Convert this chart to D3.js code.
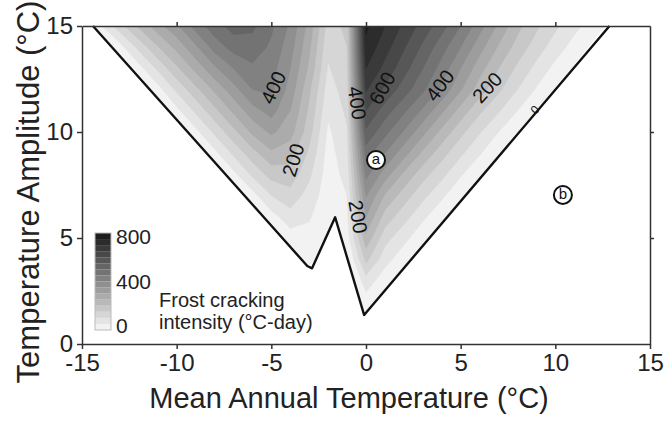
<!DOCTYPE html>
<html>
<head>
<meta charset="utf-8">
<script src="https://cdn.jsdelivr.net/npm/d3@7"></script>
<style>
  body { margin: 0; background: #fff; }
  svg { display: block; font-family: "Liberation Sans", Arial, sans-serif; }
</style>
</head>
<body>
<svg id="chart" width="665" height="423"></svg>
<script>
// grid nodes, 1 °C apart
const matNodes = [-15,-14,-13,-12,-11,-10,-9,-8,-7,-6,-5,-4,-3,-2,-1,0,1,2,3,4,5,6,7,8,9,10,11,12,13,14,15];
const ampNodes = [15,14,13,12,11,10,9,8,7,6,5,4,3,2,1,0];

// frost cracking intensity (°C-day), one row per amplitude (top row = 15 °C)
// columns follow matNodes; negative numbers are outside the shaded area (clipped away)
const fciRows = [
  [-40,45,130,210,280,340,420,480,520,510,460,390,280,130,160,760,700,640,580,520,450,370,290,215,160,110,65,25,-15,-55,-100],
  [-80,-25,30,115,195,265,340,420,470,480,440,370,260,110,150,735,670,605,540,470,400,320,245,180,125,75,30,-10,-50,-100,-100],
  [-100,-80,-25,30,110,190,265,340,400,440,420,350,240,95,140,700,635,570,500,430,350,270,200,140,85,35,-5,-50,-95,-100,-100],
  [-100,-100,-70,-25,30,110,185,260,330,400,410,330,210,75,125,655,590,525,460,390,305,225,160,100,45,0,-45,-95,-100,-100,-100],
  [-100,-100,-100,-70,-25,35,110,185,260,330,370,300,190,60,110,600,525,460,390,310,230,160,105,50,5,-40,-90,-100,-100,-100,-100],
  [-100,-100,-100,-100,-70,-25,35,110,185,260,310,270,170,40,95,540,465,395,315,235,165,105,50,5,-40,-90,-100,-100,-100,-100,-100],
  [-100,-100,-100,-100,-100,-70,-25,35,110,180,240,220,140,30,80,475,400,320,240,170,110,55,5,-40,-85,-100,-100,-100,-100,-100,-100],
  [-100,-100,-100,-100,-100,-100,-70,-25,35,110,170,180,110,25,65,415,325,240,170,115,55,10,-40,-85,-100,-100,-100,-100,-100,-100,-100],
  [-100,-100,-100,-100,-100,-100,-100,-70,-30,30,100,130,80,20,50,355,245,175,115,60,10,-35,-85,-100,-100,-100,-100,-100,-100,-100,-100],
  [-100,-100,-100,-100,-100,-100,-100,-100,-70,-30,30,80,55,15,40,300,180,120,60,15,-35,-80,-100,-100,-100,-100,-100,-100,-100,-100,-100],
  [-100,-100,-100,-100,-100,-100,-100,-100,-100,-70,-30,25,35,0,25,235,120,65,15,-30,-80,-100,-100,-100,-100,-100,-100,-100,-100,-100,-100],
  [-100,-100,-100,-100,-100,-100,-100,-100,-100,-100,-70,-30,15,-20,-10,165,70,20,-30,-75,-100,-100,-100,-100,-100,-100,-100,-100,-100,-100,-100],
  [-100,-100,-100,-100,-100,-100,-100,-100,-100,-100,-100,-100,-40,-60,-40,80,20,-25,-75,-100,-100,-100,-100,-100,-100,-100,-100,-100,-100,-100,-100],
  [-100,-100,-100,-100,-100,-100,-100,-100,-100,-100,-100,-100,-100,-100,-70,25,-25,-70,-100,-100,-100,-100,-100,-100,-100,-100,-100,-100,-100,-100,-100],
  [-100,-100,-100,-100,-100,-100,-100,-100,-100,-100,-100,-100,-100,-100,-100,-20,-70,-100,-100,-100,-100,-100,-100,-100,-100,-100,-100,-100,-100,-100,-100],
  [-100,-100,-100,-100,-100,-100,-100,-100,-100,-100,-100,-100,-100,-100,-100,-60,-100,-100,-100,-100,-100,-100,-100,-100,-100,-100,-100,-100,-100,-100,-100]
];

const levels = [0,50,100,150,200,250,300,350,400,450,500,550,600,650,700,750];

// the thick zero line round the shaded area
const edgeMat = [-14.42, -3.1, -2.85, -1.63, -0.1, 12.86];
const edgeAmp = [15, 3.68, 3.57, 5.98, 1.37, 15];

const xTicks = [-15,-10,-5,0,5,10,15];
const yTicks = [0,5,10,15];
const legendTicks = [0,400,800];

const labelValue = [400, 200, 400, 600, 400, 200, 200];
const labelMat   = [-4.9, -3.85, -0.47, 0.85, 3.9, 6.4, -0.42];
const labelAmp   = [12.1, 8.68, 11.37, 12.07, 12.2, 12.1, 6.0];
const labelAngle = [-65, -73, 82, -62, -53, -47, 80];

const siteName = ["a", "b"];
const siteMat  = [0.53, 10.4];
const siteAmp  = [8.68, 7.03];

let svg = d3.select('#chart');

let x = d3.scaleLinear().domain([-15, 15]).range([82, 650]);
let y = d3.scaleLinear().domain([0, 15]).range([344, 26]);

let shade = d3.scaleLinear().domain([0, 750]).range(["#f2f2f2", "#1e1e1e"]);

// contours: d3 puts sample i at grid coord i + 0.5
let nx = matNodes.length, ny = ampNodes.length;
let values = fciRows.slice().reverse().flat();
let bands = d3.contours().size([nx, ny]).thresholds(levels)(values);

let gridToPlot = d3.geoTransform({
  point: function(gx, gy) {
    this.stream.point(x(matNodes[0] + gx - 0.5), y(gy - 0.5));
  }
});

let edgePts = edgeMat.map((m, i) => [x(m), y(edgeAmp[i])]);

let defs = svg.append('defs');
defs.append('clipPath').attr('id', 'domain')
  .append('path')
  .attr('d', d3.line()(edgePts) + 'Z');

svg.append('g')
  .attr('clip-path', 'url(#domain)')
  .selectAll('path')
  .data(bands)
  .join('path')
  .attr('d', d3.geoPath(gridToPlot))
  .attr('fill', d => shade(d.value))
  .attr('stroke', d => shade(d.value))
  .attr('stroke-width', 0.4);

// zero line
svg.append('path')
  .attr('d', d3.line()(edgePts))
  .attr('fill', 'none')
  .attr('stroke', '#111')
  .attr('stroke-width', 2.4)
  .attr('stroke-linejoin', 'round');

// axes
let axisColor = '#333';
let plainNum = d => String(d); // hyphen minus like the original, not d3's U+2212
let styleAxis = g => {
  g.select('.domain').attr('stroke', axisColor).attr('stroke-width', 1.5);
  g.selectAll('.tick line').attr('stroke', axisColor).attr('stroke-width', 1.5);
  g.selectAll('.tick text').attr('fill', '#222').style('font-size', '24px')
    .style('font-family', '"Liberation Sans", Arial, sans-serif');
};

svg.append('g').attr('transform', 'translate(0,' + y(0) + ')')
  .call(d3.axisBottom(x).tickValues(xTicks).tickFormat(plainNum).tickSize(5).tickSizeOuter(0).tickPadding(5))
  .call(styleAxis);
svg.append('g').attr('transform', 'translate(' + x(-15) + ',0)')
  .call(d3.axisLeft(y).tickValues(yTicks).tickFormat(plainNum).tickSize(5).tickSizeOuter(0).tickPadding(4))
  .call(styleAxis);
svg.append('g').attr('transform', 'translate(0,' + y(15) + ')')
  .call(d3.axisTop(x).tickValues([-10,-5,0,5,10]).tickSize(4).tickSizeOuter(0).tickFormat(''))
  .call(styleAxis);
svg.append('g').attr('transform', 'translate(' + x(15) + ',0)')
  .call(d3.axisRight(y).tickValues([5,10]).tickSize(4).tickSizeOuter(0).tickFormat(''))
  .call(styleAxis);

// axis titles
svg.append('text')
  .attr('x', 349)
  .attr('y', 408)
  .attr('text-anchor', 'middle')
  .attr('fill', '#222')
  .style('font-size', '29px')
  .text('Mean Annual Temperature (°C)');

svg.append('text')
  .attr('transform', 'translate(39,192) rotate(-90)')
  .attr('text-anchor', 'middle')
  .attr('fill', '#222')
  .style('font-size', '31px')
  .text('Temperature Amplitude (°C)');

// contour labels
svg.append('g').selectAll('text')
  .data(labelValue)
  .join('text')
  .attr('transform', (v, i) => 'translate(' + x(labelMat[i]) + ',' + y(labelAmp[i]) + ') rotate(' + labelAngle[i] + ')')
  .attr('text-anchor', 'middle')
  .attr('dominant-baseline', 'central')
  .attr('fill', '#111')
  .style('font-size', '20px')
  .text(v => v);

// small zero label on the edge line
svg.append('text')
  .attr('transform', 'translate(' + x(8.93) + ',' + y(11.04) + ') rotate(-48)')
  .attr('text-anchor', 'middle')
  .attr('dominant-baseline', 'central')
  .attr('fill', '#111')
  .style('font-size', '12px')
  .text('0');

// circled sites
let site = svg.append('g').selectAll('g')
  .data(siteName)
  .join('g')
  .attr('transform', (s, i) => 'translate(' + x(siteMat[i]) + ',' + y(siteAmp[i]) + ')');
site.append('circle').attr('r', 9).attr('fill', '#fff').attr('stroke', '#111').attr('stroke-width', 2);
site.append('text')
  .attr('text-anchor', 'middle')
  .attr('dominant-baseline', 'central')
  .attr('y', -1)
  .attr('fill', '#111')
  .style('font-size', '15px')
  .text(s => s);

// colour bar
let ly = d3.scaleLinear().domain([0, 800]).range([330, 233]);
let legend = svg.append('g');
legend.selectAll('rect')
  .data(levels)
  .join('rect')
  .attr('x', 95)
  .attr('width', 16)
  .attr('y', t => ly(t + 50))
  .attr('height', t => ly(t) - ly(t + 50))
  .attr('fill', t => shade(t));
legend.append('rect')
  .attr('x', 95).attr('y', ly(800)).attr('width', 16).attr('height', ly(0) - ly(800))
  .attr('fill', 'none').attr('stroke', '#bbb').attr('stroke-width', 1);
legend.selectAll('text')
  .data(legendTicks)
  .join('text')
  .attr('x', 116)
  .attr('y', v => Math.min(Math.max(ly(v), ly(800) + 3), ly(0) - 5))
  .attr('dominant-baseline', 'central')
  .attr('fill', '#222')
  .style('font-size', '21px')
  .text(v => v);

legend.append('text')
  .attr('x', 159).attr('y', 307)
  .attr('fill', '#222')
  .style('font-size', '20px')
  .text('Frost cracking');
legend.append('text')
  .attr('x', 159).attr('y', 329)
  .attr('fill', '#222')
  .style('font-size', '20px')
  .text('intensity (°C-day)');
</script>
</body>
</html>
